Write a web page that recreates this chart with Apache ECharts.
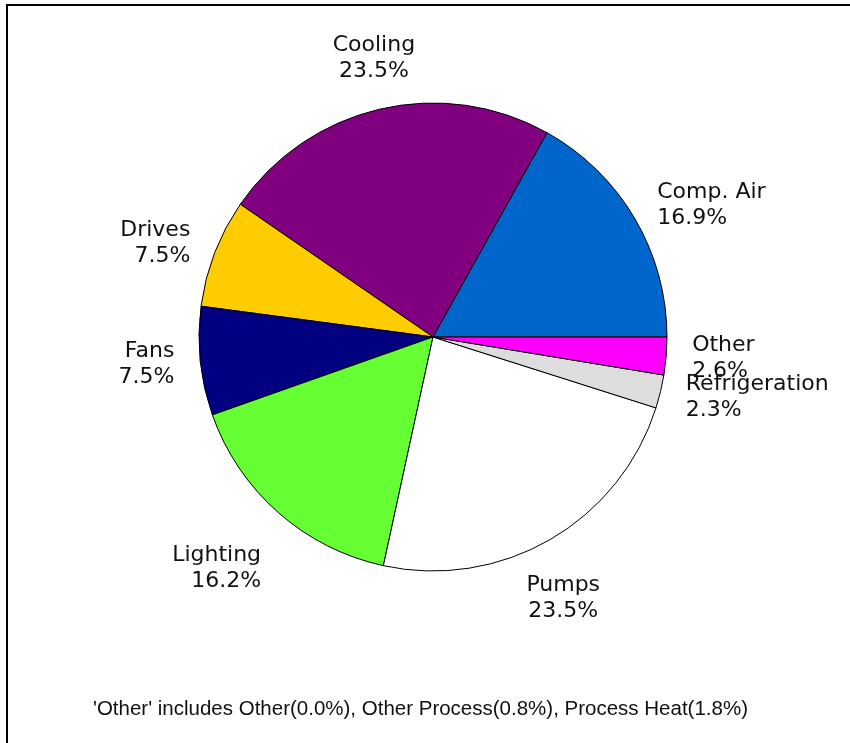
<!DOCTYPE html>
<html>
<head>
<meta charset="utf-8">
<script src="https://cdn.jsdelivr.net/npm/echarts@6/dist/echarts.min.js"></script>
<style>
  html, body { margin: 0; padding: 0; background: #fff; }
  #chart { width: 850px; height: 743px; }
</style>
</head>
<body>
<div id="chart"></div>
<script>
// energy use shares, counter-clockwise from 3 o'clock
var categories = ['Comp. Air', 'Cooling', 'Drives', 'Fans', 'Lighting', 'Pumps', 'Refrigeration', 'Other'];
var shares = [16.9, 23.5, 7.5, 7.5, 16.2, 23.5, 2.3, 2.6];
var sliceColors = ['#0066cc', '#800080', '#ffcc00', '#000080', '#66ff33', '#ffffff', '#dddddd', '#ff00ff'];
var footnote = "'Other' includes Other(0.0%), Other Process(0.8%), Process Heat(1.8%)";

var CX = 433, CY = 337, R = 234;
var LABEL_R = R + 26;

var total = shares.reduce(function (a, b) { return a + b; }, 0);
// mid angle of each slice (radians, math orientation)
var midAngles = [];
var acc = 0;
shares.forEach(function (v) {
  midAngles.push((acc + v / 2) / total * 2 * Math.PI);
  acc += v;
});

var chart = echarts.init(document.getElementById('chart'));

chart.setOption({
  animation: false,
  backgroundColor: '#fff',
  title: {
    text: footnote,
    left: 88,
    top: 694,
    textStyle: {
      fontFamily: '"Liberation Sans Narrow", "Arial Narrow", "Liberation Sans", sans-serif',
      fontSize: 20.5,
      fontWeight: 'normal',
      color: '#111'
    }
  },
  graphic: [
    { type: 'rect', shape: { x: 6, y: 4, width: 844, height: 2 }, style: { fill: '#000' } },
    { type: 'rect', shape: { x: 6, y: 4, width: 2, height: 739 }, style: { fill: '#000' } }
  ],
  series: [
    {
      type: 'pie',
      center: [CX, CY],
      radius: R,
      startAngle: 0,
      clockwise: false,
      avoidLabelOverlap: false,
      itemStyle: { borderColor: '#000', borderWidth: 1 },
      emphasis: { disabled: true },
      label: {
        show: true,
        position: 'outside',
        fontFamily: '"DejaVu Sans", sans-serif',
        fontSize: 22,
        lineHeight: 26,
        color: '#111',
        formatter: function (p) { return p.name + '\n' + p.value.toFixed(1) + '%'; }
      },
      labelLine: { show: false },
      labelLayout: function (params) {
        var a = midAngles[params.dataIndex];
        var c = Math.cos(a), s = Math.sin(a);
        var align = c > 0.55 ? 'left' : (c < -0.55 ? 'right' : 'center');
        var valign = s > 0.7 ? 'bottom' : (s < -0.7 ? 'top' : 'middle');
        return {
          x: CX + LABEL_R * c,
          y: CY - LABEL_R * s + (valign === 'top' ? 10 : 0),
          align: align,
          verticalAlign: valign
        };
      },
      data: categories.map(function (name, i) {
        return { name: name, value: shares[i], itemStyle: { color: sliceColors[i] } };
      })
    }
  ]
});
</script>
</body>
</html>
